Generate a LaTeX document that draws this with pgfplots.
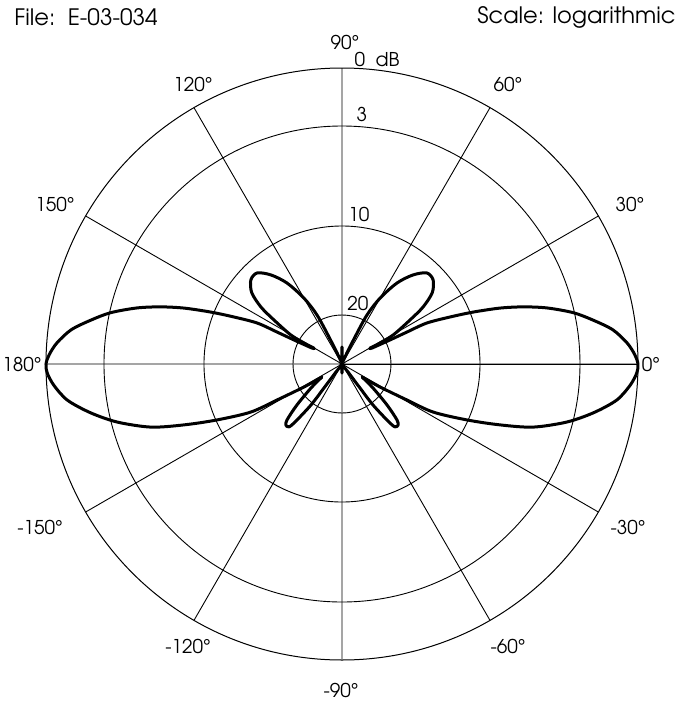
\documentclass[border=0pt]{standalone}
\usepackage{fontspec}
\setmainfont{texgyreadventor-regular.otf}
\usepackage{pgfplots}
\pgfplotsset{compat=1.18}
\usepgfplotslibrary{polar}
\begin{document}
\begin{tikzpicture}[font=\fontsize{9.5}{11}\selectfont]
\useasboundingbox (-171pt,-169.5pt) rectangle (170pt,182pt);
\begin{polaraxis}[
  at={(0,0)}, anchor=origin,
  scale only axis, width=296pt, height=296pt,
  ymin=0, ymax=296,
  xtick={0,30,...,330}, ytick={49,138,238},
  xticklabels={}, yticklabels={},
  major tick length=0pt,
  grid=major,
  major grid style={black, line width=0.45pt},
  axis line style={black, line width=0.5pt},
  clip=false,
  pat/.style={draw=black, solid, line width=1.5pt, line join=round, line cap=round, mark=none},
]
% right main lobe
\addplot[pat, smooth, tension=0.5] coordinates {
(-33,24) (-31.2,44) (-29,74) (-27.8,103) (-24.1,137) (-21.1,169) (-18.3,201) (-14.5,232)
(-11,256) (-7.5,277) (-4.2,289) (-1.7,295) (0,296)
(1.8,293) (4.2,286) (7.2,273) (9.9,255) (12.5,237) (15.3,212.5) (17.5,190)
(19.5,167.5) (21.6,141) (23.5,118) (25.8,94) (26.2,72) (26.6,54) (28,34) (29.5,32)
};
% upper right side lobe
\addplot[pat, smooth, tension=0.5] coordinates {
(29.5,32) (29,43) (29.6,59) (32.9,81) (35.1,99) (38.3,115) (42.7,124) (47,124.5) (51.4,114)
(55.8,98) (60,76) (63,55) (64.3,30) (66,12)
};
% upper null and spike
\addplot[pat] coordinates {
(66,12) (70,3) (86,3) (89,12) (90,17) (91,12) (94,3) (110,3) (114,12)
};
% upper left side lobe
\addplot[pat, smooth, tension=0.5] coordinates {
(114,12) (115.7,30) (117,55) (120,76) (124.2,98) (128.6,114) (133,124.5)
(137.3,124) (141.7,115) (144.9,99) (147.1,81) (150.4,59) (151,43) (150.5,32)
};
% left main lobe
\addplot[pat, smooth, tension=0.5] coordinates {
(150.5,32) (152,34) (153.4,54) (153.8,72) (154.2,94) (156.5,118) (158.4,141) (160.5,167.5)
(162.5,190) (164.7,212.5) (167.5,237) (170.1,255) (172.8,273) (175.8,286) (178.2,293) (180,296)
(-178.3,295) (-175.8,289) (-172.5,277) (-169,256) (-165.5,232) (-161.7,201) (-158.9,169)
(-155.9,137) (-152.2,103) (-151,74) (-148.8,44) (-147,24)
};
% lower left side lobe
\addplot[pat, smooth, tension=0.5] coordinates {
(-147,24) (-142.3,39) (-137.7,61) (-134.5,78.5) (-132.5,83) (-130,82) (-128.8,72) (-127.1,51)
(-126.9,30) (-127,10)
};
% lower null and spike
\addplot[pat] coordinates {
(-127,10) (-120,2) (-96,2) (-91,7) (-90,9) (-89,7) (-84,2) (-60,2) (-53,10)
};
% lower right side lobe
\addplot[pat, smooth, tension=0.5] coordinates {
(-53,10) (-53.1,30) (-52.9,51) (-51.2,72) (-50,82) (-47.5,83) (-45.5,78.5)
(-42.3,61) (-37.7,39) (-33,24)
};
\end{polaraxis}
\begin{scope}[every node/.style={inner sep=0pt}]
\node[anchor=west, font=\fontsize{11.3}{13}\selectfont] at (-164pt,173.25pt) {File:\ \ E-03-034};
\node[anchor=east, font=\fontsize{11.3}{13}\selectfont] at (167pt,173.25pt) {Scale: logarithmic};
\node at (1.5pt,161pt) {90°};
\node at (17.5pt,152.5pt) {0\ \ dB};
\node at (-74.5pt,140pt) {120°};
\node at (83pt,140pt) {60°};
\node at (10pt,125pt) {3};
\node at (-143.5pt,80pt) {150°};
\node at (144pt,80pt) {30°};
\node at (8.5pt,75pt) {10};
\node at (8pt,30.5pt) {20};
\node at (-160pt,0pt) {180°};
\node at (154.5pt,0pt) {0°};
\node at (-151pt,-81.5pt) {-150°};
\node at (143pt,-81.5pt) {-30°};
\node at (-77pt,-141pt) {-120°};
\node at (83pt,-141pt) {-60°};
\node at (-0.5pt,-163pt) {-90°};
\end{scope}
\end{tikzpicture}
\end{document}
